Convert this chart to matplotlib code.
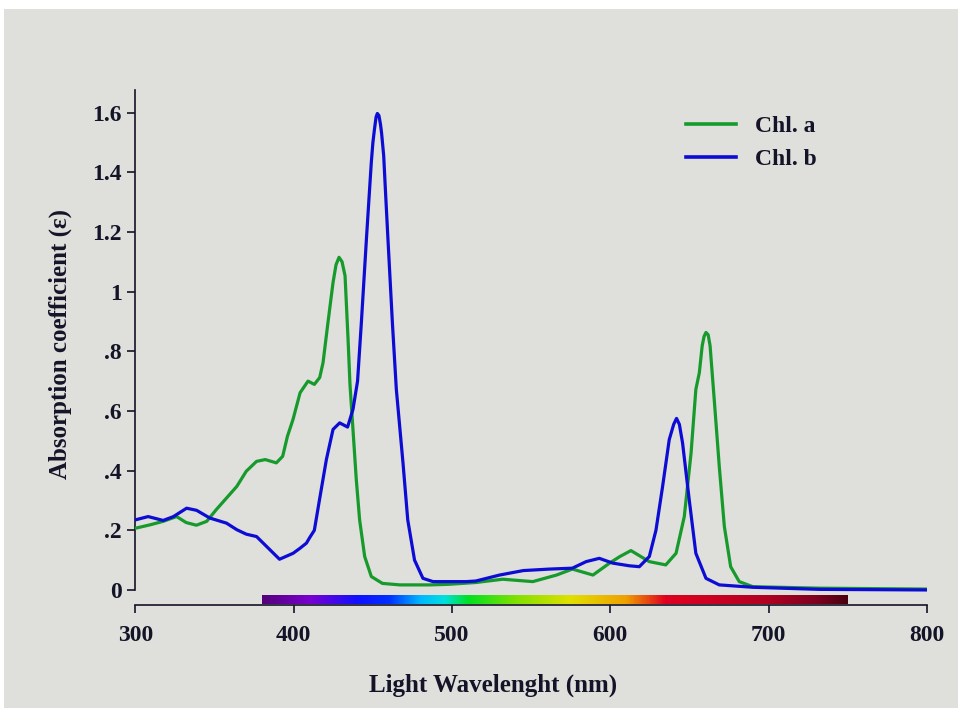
import numpy as np
import matplotlib
matplotlib.use("Agg")
import matplotlib.pyplot as plt
from matplotlib.colors import LinearSegmentedColormap
from matplotlib.patches import Rectangle

# Chlorophyll a absorption
chla_nm = [300, 309, 317.5, 326, 332, 338.5, 345, 351, 357.5, 364, 370, 376.5, 382, 389,
           393, 396, 399.5, 404, 409, 413, 416.4, 418.5, 421.6, 424.8, 426.7, 428.6, 430.5,
           432.4, 434.3, 435.5, 437.4, 439.5, 441.6, 444.8, 449, 456, 467, 486, 498, 515,
           532, 551, 566, 576, 589, 599.5, 606, 613, 624.6, 635, 641.5, 646.7, 651, 654,
           656.2, 658, 659.2, 660.4, 661.8, 663, 665.6, 668.8, 672, 676, 681.4, 690, 732, 800]
chla_val = [0.207, 0.218, 0.23, 0.246, 0.226, 0.217, 0.23, 0.269, 0.308, 0.347, 0.398, 0.431,
            0.437, 0.426, 0.448, 0.515, 0.571, 0.661, 0.70, 0.689, 0.712, 0.762, 0.896, 1.03,
            1.09, 1.115, 1.10, 1.053, 0.84, 0.69, 0.538, 0.37, 0.235, 0.112, 0.045, 0.022,
            0.017, 0.017, 0.019, 0.025, 0.036, 0.028, 0.05, 0.07, 0.05, 0.09, 0.112, 0.132,
            0.095, 0.084, 0.123, 0.246, 0.46, 0.672, 0.728, 0.818, 0.85, 0.863, 0.855, 0.818,
            0.639, 0.414, 0.213, 0.078, 0.028, 0.011, 0.006, 0.003]

# Chlorophyll b absorption
chlb_nm = [300, 308, 317.5, 324, 332.3, 338.6, 347, 357.5, 364, 370, 376.5, 382.8, 391,
           399.6, 404, 408, 410, 413, 416.5, 420.6, 424.8, 429, 434, 437.4, 440.3, 442.7,
           445.9, 447.5, 449, 450, 451, 452, 452.8, 453.8, 454.8, 455.5, 456.8, 458, 459.5,
           462.3, 464.8, 469, 472, 476.3, 481.6, 488, 509, 515, 530, 545, 561.5, 576, 584.7,
           593, 601.5, 612, 618.3, 624.6, 628.8, 633, 637.2, 640, 641.8, 643.6, 645.6, 649.8,
           654, 660.4, 668.8, 690, 732, 800]
chlb_val = [0.235, 0.246, 0.233, 0.246, 0.274, 0.267, 0.241, 0.224, 0.202, 0.187, 0.179,
            0.146, 0.103, 0.123, 0.14, 0.157, 0.175, 0.20, 0.31, 0.437, 0.538, 0.56, 0.546,
            0.605, 0.70, 0.896, 1.176, 1.31, 1.434, 1.50, 1.545, 1.585, 1.597, 1.59, 1.56,
            1.53, 1.456, 1.33, 1.176, 0.896, 0.672, 0.426, 0.235, 0.10, 0.039, 0.028, 0.028,
            0.03, 0.05, 0.065, 0.07, 0.073, 0.095, 0.106, 0.09, 0.081, 0.078, 0.112, 0.20,
            0.347, 0.504, 0.555, 0.575, 0.555, 0.493, 0.303, 0.123, 0.039, 0.017, 0.009,
            0.002, 0.0]

# visible spectrum strip under the curves
spec_nm = [380, 410, 440, 460, 480, 495, 510, 540, 575, 610, 635, 660, 700, 730, 750]
spec_col = ["#55007a", "#7a00d0", "#1010ff", "#0030ff", "#00b8ff", "#00e0e0", "#00e020",
            "#80e000", "#e0e000", "#f0a000", "#e00020", "#d00020", "#b00020", "#800020",
            "#4a0010"]

yticks = [0, 0.2, 0.4, 0.6, 0.8, 1.0, 1.2, 1.4, 1.6]
ytick_labels = ["0", ".2", ".4", ".6", ".8", "1", "1.2", "1.4", "1.6"]
xticks = [300, 400, 500, 600, 700, 800]

green = "#169a2b"
blue = "#0c0cd4"
ink = "#141428"
bg = "#dfdfdb"

plt.rcParams["font.family"] = ["Liberation Serif", "DejaVu Serif"]
plt.rcParams["font.weight"] = "bold"

fig = plt.figure(figsize=(9.58, 7.08), dpi=100)
fig.patch.set_facecolor("white")
fig.patches.append(Rectangle((4 / 958, 0), 1, 1 - 9 / 708, transform=fig.transFigure,
                             facecolor=bg, edgecolor="none", zorder=-10))

ax = fig.add_axes([0.1414, 0.1448, 0.8262, 0.7278])
ax.set_facecolor("none")

# spectrum bar
cmap = LinearSegmentedColormap.from_list(
    "spec", [((w - spec_nm[0]) / (spec_nm[-1] - spec_nm[0]), c) for w, c in zip(spec_nm, spec_col)])
grad = np.linspace(0, 1, 512).reshape(1, -1)
ax.imshow(grad, cmap=cmap, aspect="auto", extent=[380, 750, -0.048, -0.019], zorder=1)

ax.plot(chla_nm, chla_val, color=green, lw=2.3, label="Chl. a", zorder=3,
        solid_joinstyle="round")
ax.plot(chlb_nm, chlb_val, color=blue, lw=2.3, label="Chl. b", zorder=4,
        solid_joinstyle="round")

ax.set_xlim(300, 800)
ax.set_ylim(-0.052, 1.675)

for s in ["top", "right"]:
    ax.spines[s].set_visible(False)
ax.spines["left"].set_bounds(0, 1.675)
ax.spines["left"].set_linewidth(1.2)
ax.spines["bottom"].set_linewidth(1.2)
ax.spines["left"].set_color(ink)
ax.spines["bottom"].set_color(ink)

ax.set_yticks(yticks)
ax.set_yticklabels(ytick_labels)
ax.set_xticks(xticks)
ax.tick_params(axis="both", direction="out", length=6, width=1.2, color=ink,
               labelsize=17, labelcolor=ink)
ax.tick_params(axis="y", pad=4)
ax.tick_params(axis="x", pad=8)
for lbl in ax.get_xticklabels() + ax.get_yticklabels():
    lbl.set_fontweight("bold")

fig.text(0.515, 0.0325, "Light Wavelenght (nm)", ha="center", va="center",
         fontsize=18, fontweight="bold", color=ink)
fig.text(0.063, 0.514, "Absorption coefficient (\u03b5)", ha="center", va="center",
         rotation=90, fontsize=18, fontweight="bold", color=ink)

leg = ax.legend(loc="upper left", bbox_to_anchor=(665 / 958, 1 - 94 / 708),
                bbox_transform=fig.transFigure, frameon=False, fontsize=17,
                handlelength=2.1, handletextpad=0.8, labelspacing=0.5)
for t in leg.get_texts():
    t.set_color(ink)
    t.set_fontweight("bold")
for h in leg.get_lines():
    h.set_linewidth(2.6)

fig.savefig("out.png", dpi=100, facecolor=fig.get_facecolor())
